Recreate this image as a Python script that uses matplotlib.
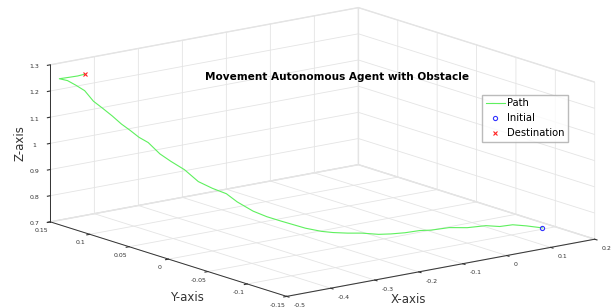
import numpy as np
import matplotlib
matplotlib.use("Agg")
import matplotlib.pyplot as plt

# path of the agent (initial -> destination)
path_x = [0.135, 0.113, 0.096, 0.079, 0.062, 0.039, 0.016, -0.007, -0.024, -0.047,
          -0.070, -0.087, -0.109, -0.127, -0.144, -0.161, -0.178, -0.195, -0.212, -0.229,
          -0.249, -0.263, -0.280, -0.298, -0.315, -0.332, -0.346, -0.360, -0.372, -0.383,
          -0.394, -0.406, -0.417, -0.429, -0.440, -0.455, -0.470, -0.485, -0.478, -0.465,
          -0.452, -0.440]
path_y = [-0.120, -0.112, -0.104, -0.097, -0.089, -0.078, -0.068, -0.058, -0.053, -0.047,
          -0.042, -0.036, -0.027, -0.019, -0.010, -0.005, 0.006, 0.028, 0.036, 0.044,
          0.053, 0.059, 0.067, 0.075, 0.083, 0.091, 0.097, 0.104, 0.109, 0.114,
          0.119, 0.124, 0.130, 0.135, 0.140, 0.143, 0.145, 0.147, 0.143, 0.146,
          0.142, 0.140]
path_z = [0.735, 0.742, 0.744, 0.736, 0.737, 0.726, 0.724, 0.712, 0.711, 0.704,
          0.702, 0.700, 0.703, 0.701, 0.700, 0.705, 0.712, 0.724, 0.738, 0.757,
          0.790, 0.820, 0.838, 0.862, 0.905, 0.935, 0.962, 1.003, 1.022, 1.047,
          1.070, 1.100, 1.127, 1.153, 1.192, 1.215, 1.235, 1.245, 1.250, 1.245,
          1.250, 1.255]

initial = (0.135, -0.120, 0.735)
destination = (-0.440, 0.140, 1.255)

x_ticks = [-0.5, -0.4, -0.3, -0.2, -0.1, 0, 0.1, 0.2]
y_ticks = [-0.15, -0.1, -0.05, 0, 0.05, 0.1, 0.15]
z_ticks = [0.7, 0.8, 0.9, 1.0, 1.1, 1.2, 1.3]

fig = plt.figure(figsize=(6.11, 3.07), dpi=100)
ax = fig.add_axes([-0.3894, -0.4246, 1.81, 1.81], projection="3d", proj_type="ortho")
ax.view_init(elev=14, azim=-127.5)
ax.set_box_aspect((1, 1, 0.417))

ax.plot(path_x, path_y, path_z, color="#5ef05e", lw=0.8, label="Path", clip_on=False)
ax.plot([initial[0]], [initial[1]], [initial[2]], "o", color="#3333ff",
        mfc="none", ms=3, mew=0.8, label="Initial", clip_on=False)
ax.plot([destination[0]], [destination[1]], [destination[2]], "x", color="#ff2222",
        ms=3, mew=0.8, label="Destination", clip_on=False)

ax.set_xlim(-0.5, 0.2)
ax.set_ylim(-0.15, 0.15)
ax.set_zlim(0.7, 1.3)
ax.set_xticks(x_ticks)
ax.set_yticks(y_ticks)
ax.set_zticks(z_ticks)
fmt = matplotlib.ticker.FormatStrFormatter("%g")
for a in (ax.xaxis, ax.yaxis, ax.zaxis):
    a.set_major_formatter(fmt)
    a.set_pane_color((1, 1, 1, 1))
    a.pane.set_edgecolor("#e4e4e4")
    a._axinfo["grid"]["color"] = "#e4e4e4"
    a._axinfo["grid"]["linewidth"] = 0.6
    a._axinfo["axisline"]["color"] = "#333333"
    a._axinfo["tick"]["inward_factor"] = 0.12
    a._axinfo["tick"]["outward_factor"] = 0.0
    a.line.set_linewidth(0.7)
    a.line.set_color("#333333")
ax.tick_params(labelsize=4.5, colors="#333333", pad=-2)
for t in ax.xaxis.get_major_ticks():
    t.label1.set_horizontalalignment("left")

ax.legend(loc="upper left", bbox_to_anchor=(0.789, 0.691),
          bbox_transform=fig.transFigure, fontsize=7.2, borderaxespad=0,
          frameon=True, fancybox=False, edgecolor="#aaaaaa", handlelength=1.9,
          handletextpad=0.2, borderpad=0.35, labelspacing=0.5)

fig.text(0.551, 0.749, "Movement Autonomous Agent with Obstacle",
         ha="center", va="center", fontsize=7.6, fontweight="bold")
fig.text(0.033, 0.534, "Z-axis", rotation=90, ha="center", va="center",
         fontsize=8.5, color="#333333")
fig.text(0.306, 0.03, "Y-axis", ha="center", va="center", fontsize=8.5, color="#333333")
fig.text(0.668, 0.024, "X-axis", ha="center", va="center", fontsize=8.5, color="#333333")

fig.savefig("out.png", dpi=100)
